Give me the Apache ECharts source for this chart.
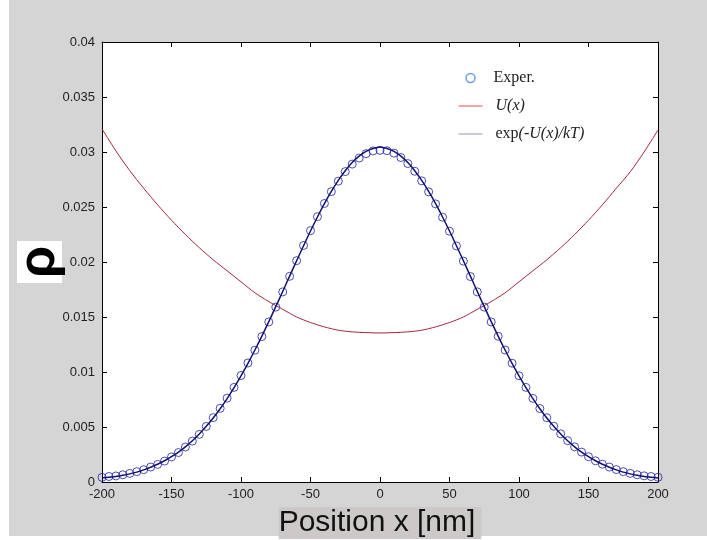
<!DOCTYPE html>
<html>
<head>
<meta charset="utf-8">
<script src="https://cdn.jsdelivr.net/npm/echarts@6/dist/echarts.min.js"></script>
<style>
html,body{margin:0;padding:0;background:#fff;}
#c{width:707px;height:540px;}
</style>
</head>
<body>
<div id="c"></div>
<script>
// Position grid of the measured points [nm]
const expX = [-200,-195,-190,-185,-180,-175,-170,-165,-160,-155,-150,-145,-140,-135,-130,-125,-120,-115,-110,-105,-100,-95,-90,-85,-80,-75,-70,-65,-60,-55,-50,-45,-40,-35,-30,-25,-20,-15,-10,-5,0,5,10,15,20,25,30,35,40,45,50,55,60,65,70,75,80,85,90,95,100,105,110,115,120,125,130,135,140,145,150,155,160,165,170,175,180,185,190,195,200];
// Measured probability density (circles)
const expP = [0.00042,0.00050,0.00055,0.00066,0.00078,0.00094,0.00112,0.00136,0.00160,0.00190,0.00228,0.00268,0.00318,0.00372,0.00433,0.00505,0.00585,0.00670,0.00762,0.00860,0.00968,0.01082,0.01198,0.01322,0.01455,0.01590,0.01728,0.01870,0.02012,0.02150,0.02285,0.02412,0.02532,0.02640,0.02735,0.02822,0.02890,0.02945,0.02985,0.03010,0.03015,0.03012,0.02990,0.02950,0.02895,0.02825,0.02738,0.02638,0.02528,0.02407,0.02280,0.02146,0.02008,0.01868,0.01728,0.01590,0.01455,0.01325,0.01200,0.01080,0.00966,0.00860,0.00760,0.00668,0.00584,0.00507,0.00438,0.00376,0.00320,0.00272,0.00230,0.00193,0.00162,0.00136,0.00113,0.00094,0.00078,0.00066,0.00056,0.00050,0.00043];
// exp(-U(x)/kT) curve
const fitP = [0.00036,0.00043,0.00050,0.00061,0.00074,0.00090,0.00110,0.00134,0.00161,0.00193,0.00230,0.00272,0.00320,0.00375,0.00437,0.00506,0.00582,0.00666,0.00758,0.00858,0.00965,0.01079,0.01200,0.01326,0.01458,0.01594,0.01732,0.01872,0.02011,0.02148,0.02282,0.02409,0.02530,0.02641,0.02742,0.02830,0.02904,0.02962,0.03005,0.03031,0.03045,0.03031,0.03005,0.02962,0.02904,0.02830,0.02742,0.02641,0.02530,0.02409,0.02282,0.02148,0.02011,0.01872,0.01732,0.01594,0.01458,0.01326,0.01200,0.01079,0.00965,0.00858,0.00758,0.00666,0.00582,0.00506,0.00437,0.00375,0.00320,0.00272,0.00230,0.00193,0.00161,0.00134,0.00110,0.00090,0.00074,0.00061,0.00050,0.00043,0.00036];
// U(x) potential curve
const uX = [-200,-190,-180,-170,-160,-150,-140,-130,-120,-110,-100,-90,-80,-70,-60,-50,-40,-30,-20,-10,0,10,20,30,40,50,60,70,80,90,100,110,120,130,140,150,160,170,180,190,200];
const uP = [0.0321,0.0301,0.0283,0.0267,0.0252,0.0238,0.0225,0.0213,0.0202,0.0192,0.0182,0.0172,0.0164,0.0157,0.0150,0.0145,0.0141,0.0138,0.01365,0.01358,0.01355,0.01358,0.01365,0.0138,0.0141,0.0145,0.0150,0.0157,0.0164,0.0172,0.0182,0.0192,0.0202,0.0213,0.0225,0.0238,0.0252,0.0267,0.0282,0.0300,0.0320];
// Axis ticks
const xTicks = {min:-200, max:200, step:50};
const yTicks = {min:0, max:0.04, step:0.005};

const chart = echarts.init(document.getElementById('c'), null, {renderer:'canvas'});
const zip = (a,b)=>a.map((v,i)=>[v,b[i]]);
const lblFont = {fontFamily:'Liberation Sans', fontSize:13, color:'#222'};
const axisLine = {show:true, onZero:false, lineStyle:{color:'#000', width:1}};
const tick = {show:true, inside:true, length:5, lineStyle:{color:'#000'}};
const hidden = {color:'rgba(0,0,0,0)', borderWidth:0, opacity:0};

chart.setOption({
  animation:false,
  backgroundColor:'#fff',
  graphic:[
    {type:'rect', z:-10, silent:true, shape:{x:9,y:0,width:698,height:536}, style:{fill:'#d5d5d5'}}
  ],
  grid:{left:102,right:49,top:42,bottom:58,show:true,backgroundColor:'#fff',borderWidth:0,
        outerBoundsMode:'none', containLabel:false},
  legend:{
    orient:'vertical', left:458, top:70, padding:0,
    itemWidth:24, itemHeight:9, itemGap:12,
    textStyle:{fontFamily:'Liberation Serif', fontSize:16, color:'#222',
      rich:{
        n:{fontFamily:'Liberation Serif', fontSize:16, color:'#222', padding:[0,0,0,6]},
        i:{fontFamily:'Liberation Serif', fontSize:16, color:'#222', fontStyle:'italic'},
        ni:{fontFamily:'Liberation Serif', fontSize:16, color:'#222', fontStyle:'italic', padding:[0,0,0,8]},
        n2:{fontFamily:'Liberation Serif', fontSize:16, color:'#222', padding:[0,0,0,8]}
      }},
    formatter:function(name){
      if(name==='Exper.') return '{n|Exper.}';
      if(name==='U(x)') return '{ni|U(x)}';
      return '{n2|exp}{i|(-U(x)/kT)}';
    },
    data:[
      {name:'Exper.', icon:'circle', itemStyle:{color:'rgba(0,0,0,0)', borderColor:'#4a86d8', borderWidth:1.5}},
      {name:'U(x)', itemStyle:hidden, lineStyle:{color:'#f04848', width:1}},
      {name:'exp(-U(x)/kT)', itemStyle:hidden, lineStyle:{color:'#9494b4', width:1}}
    ]
  },
  xAxis:[{
    type:'value', min:xTicks.min, max:xTicks.max, interval:xTicks.step,
    axisLine:axisLine, axisTick:tick, splitLine:{show:false},
    axisLabel:Object.assign({margin:6}, lblFont),
    name:'Position x [nm]', nameLocation:'middle', nameGap:25, nameMoveOverlap:false,
    nameTextStyle:{fontFamily:'Liberation Sans', fontSize:30, color:'#111', backgroundColor:'#cdc9c9', padding:[0,6,0,0], lineHeight:32}
  },{
    type:'value', position:'top', min:xTicks.min, max:xTicks.max, interval:xTicks.step,
    axisLine:axisLine, axisTick:tick, axisLabel:{show:false}, splitLine:{show:false}
  }],
  yAxis:[{
    type:'value', min:yTicks.min, max:yTicks.max, interval:yTicks.step,
    axisLine:axisLine, axisTick:tick, splitLine:{show:false},
    axisLabel:Object.assign({margin:7, formatter:v=>String(parseFloat(v.toFixed(3)))}, lblFont),
    name:'ρ', nameLocation:'middle', nameRotate:90, nameGap:40, nameMoveOverlap:false,
    nameTextStyle:{fontFamily:'Liberation Sans', fontSize:52, fontWeight:'bold', color:'#000', backgroundColor:'#fff', padding:[0,5,0,5], lineHeight:45}
  },{
    type:'value', position:'right', min:yTicks.min, max:yTicks.max, interval:yTicks.step,
    axisLine:axisLine, axisTick:tick, axisLabel:{show:false}, splitLine:{show:false}
  }],
  series:[
    {name:'Exper.', type:'scatter', data:zip(expX,expP), symbol:'circle', symbolSize:8,
     itemStyle:{color:'rgba(0,0,0,0)', borderColor:'#1f1fa8', borderWidth:1}, z:2},
    {name:'U(x)', type:'line', data:zip(uX,uP), symbol:'none', smooth:0.3,
     lineStyle:{color:'#a1283a', width:1}, z:3},
    {name:'exp(-U(x)/kT)', type:'line', data:zip(expX,fitP), symbol:'none', smooth:0.3,
     lineStyle:{color:'#121270', width:1.5}, z:4}
  ]
});
</script>
</body>
</html>
